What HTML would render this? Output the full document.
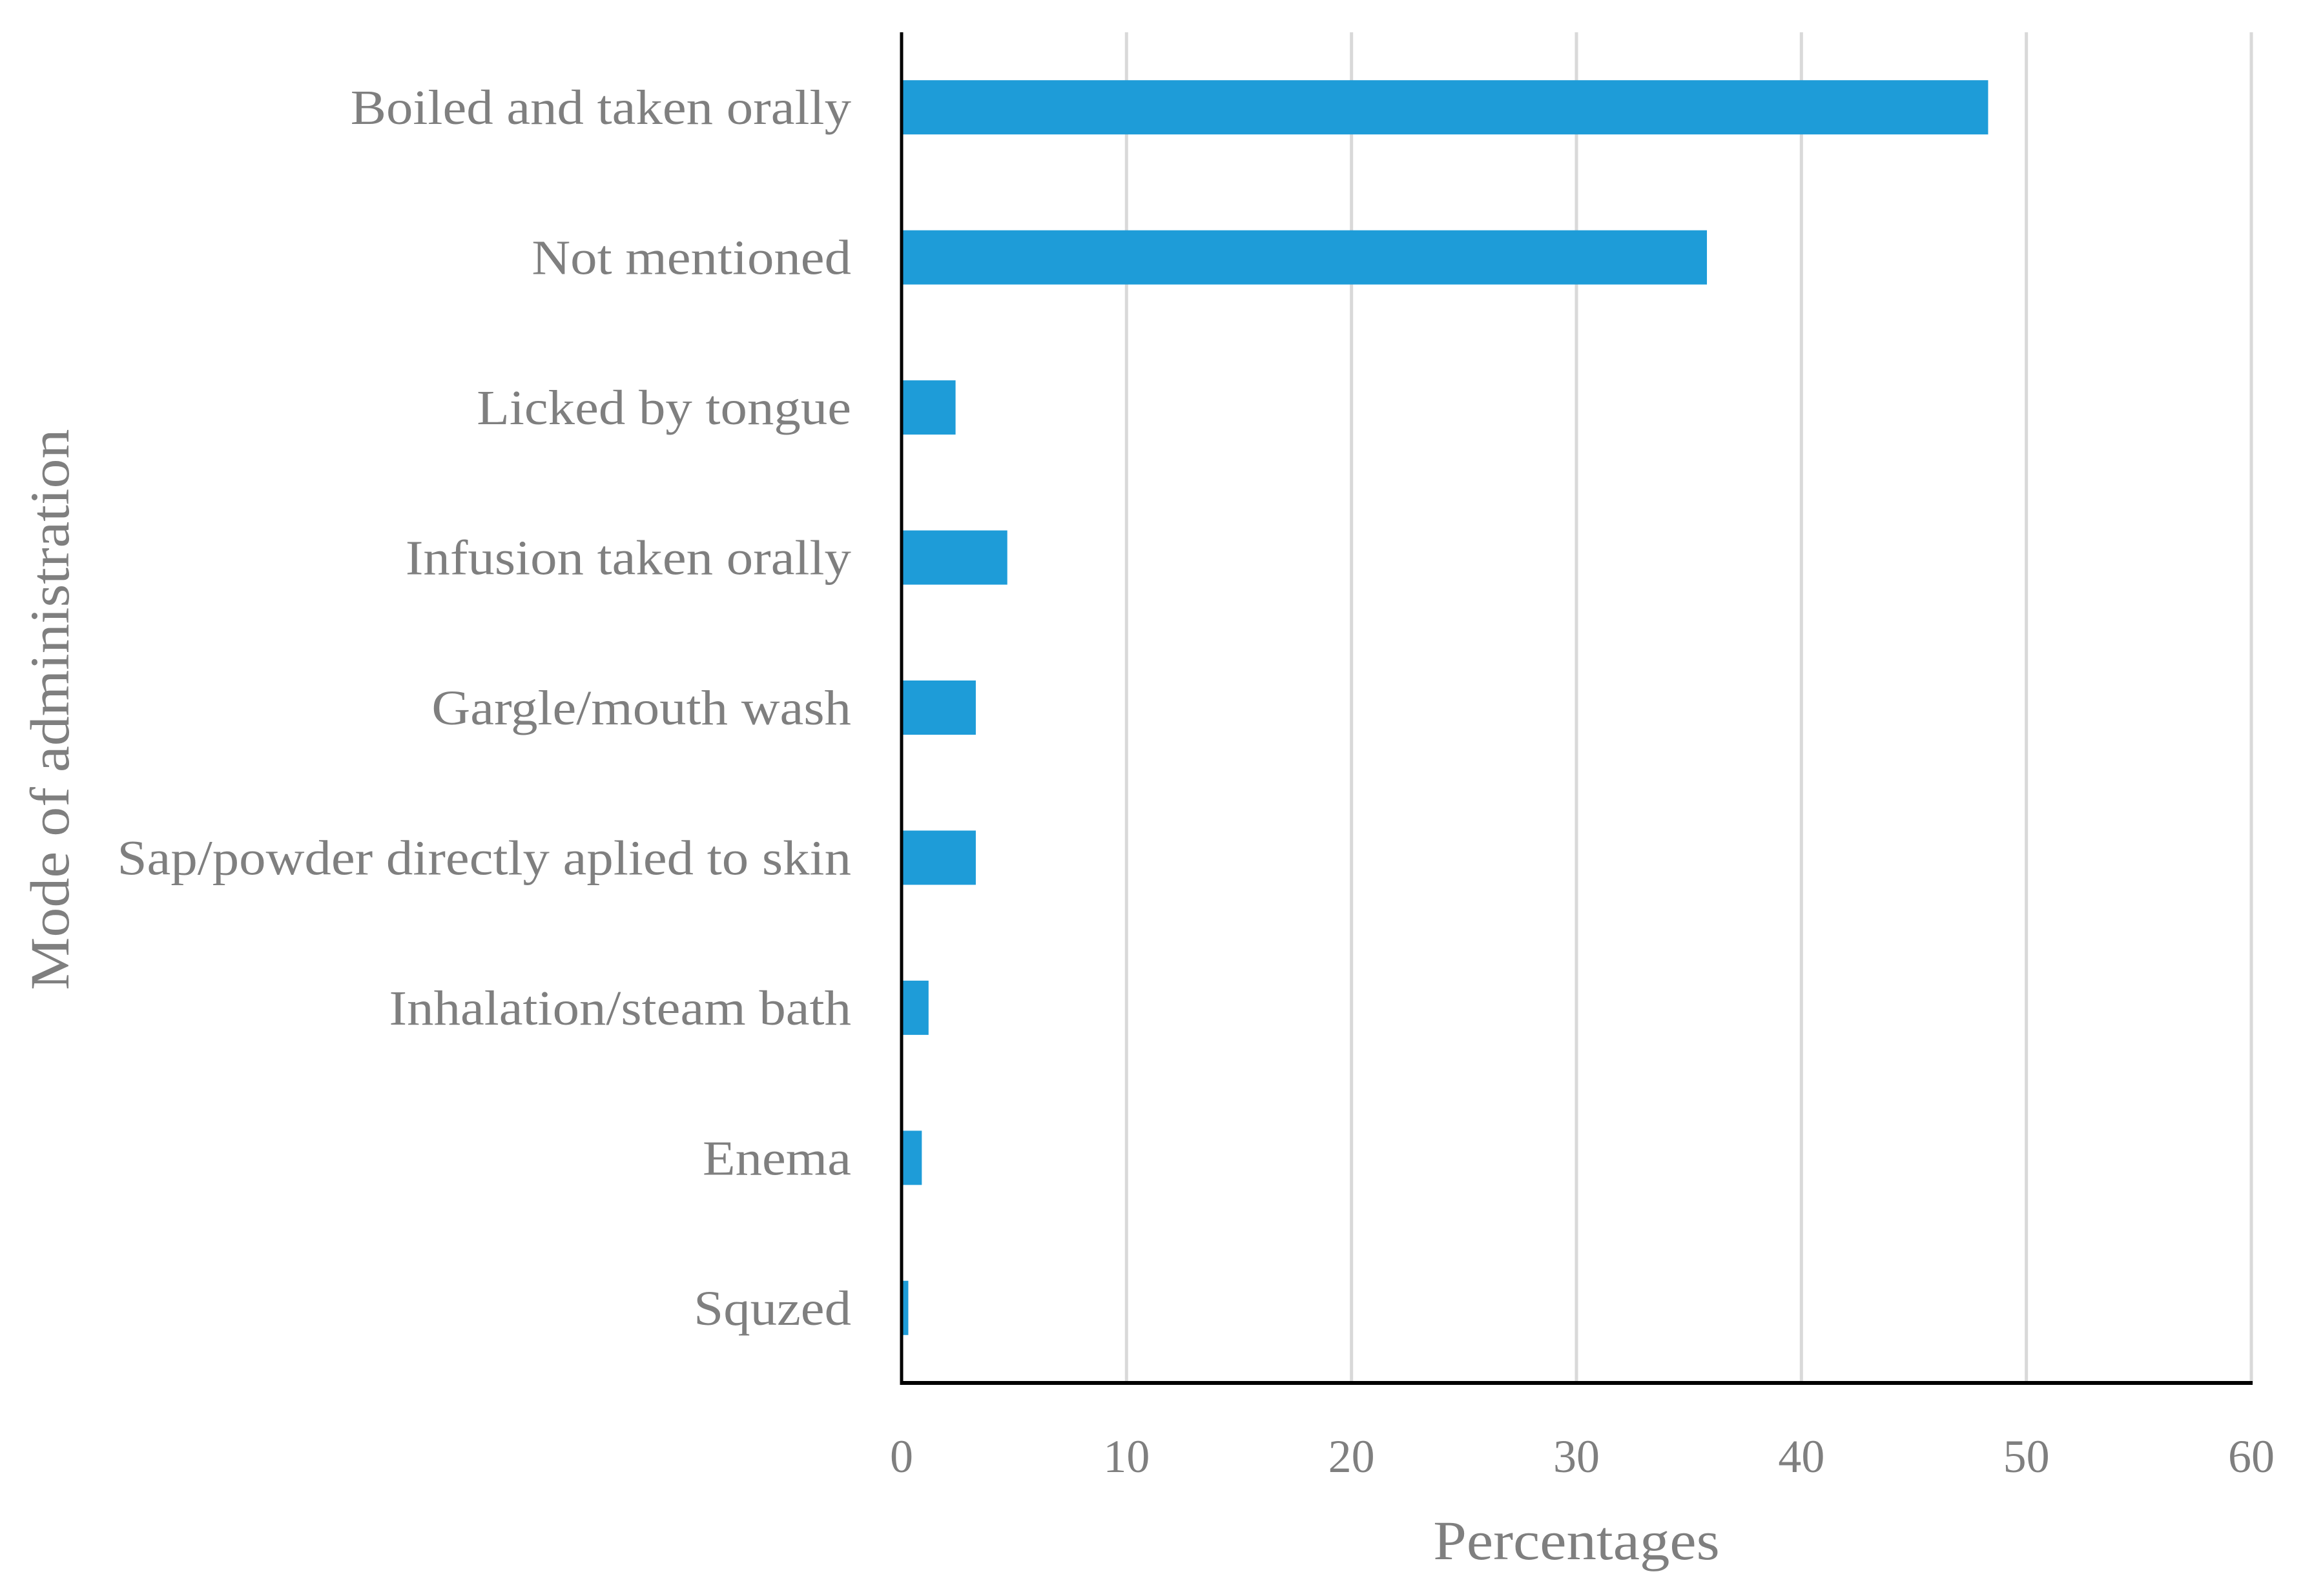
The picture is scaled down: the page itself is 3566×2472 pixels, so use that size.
<!DOCTYPE html>
<html><head><meta charset="utf-8"><style>
html,body{margin:0;padding:0;background:#fff;}
svg text{font-family:"Liberation Serif",serif;fill:#7f7f7f;}
</style></head><body>
<svg id="chart" width="3566" height="2467" viewBox="0 0 3566 2467" xmlns="http://www.w3.org/2000/svg">
<g id="grid"></g>
<g id="bars"></g>
<g id="ylabels"></g>
<g id="xlabels"></g>
<line x1="1396" y1="50" x2="1396" y2="2145" stroke="#000" stroke-width="5"/>
<line x1="1394" y1="2142" x2="3488" y2="2142" stroke="#000" stroke-width="6"/>
<text id="xt" x="2441" y="2415" font-size="86" text-anchor="middle">Percentages</text>
<text id="yt" transform="translate(106,1099) rotate(-90)" font-size="86" text-anchor="middle">Mode of administration</text>
</svg>
<script>
const categories = ["Boiled and taken orally","Not mentioned","Licked by tongue","Infusion taken orally","Gargle/mouth wash","Sap/powder directly aplied to skin ","Inhalation/steam bath","Enema","Squzed"];
const values = [48.3,35.8,2.4,4.7,3.3,3.3,1.2,0.9,0.3];
const ticks = [0,10,20,30,40,50,60];

const NS="http://www.w3.org/2000/svg";
const X0=1396,X1=3486,XMAX=60,Y0=50,Y1=2142;
const band=(Y1-Y0)/categories.length;
function xs(v){return X0+(v/XMAX)*(X1-X0);}
function yc(i){return Y0+band*(i+0.5);}
function widen(el,f){const w=el.getComputedTextLength();el.setAttribute('textLength',w*f);el.setAttribute('lengthAdjust','spacingAndGlyphs');}
const grid=document.getElementById('grid'),bars=document.getElementById('bars'),yl=document.getElementById('ylabels'),xl=document.getElementById('xlabels');
ticks.forEach(t=>{
  if(t>0){
    const l=document.createElementNS(NS,'line');
    
    
    l.setAttribute('x1',xs(t));l.setAttribute('x2',xs(t));l.setAttribute('y1',Y0);l.setAttribute('y2',Y1);
    l.setAttribute('stroke','#d9d9d9');l.setAttribute('stroke-width','5');
    grid.appendChild(l);
  }
  const tx=document.createElementNS(NS,'text');
  
  
  tx.setAttribute('x',xs(t));tx.setAttribute('y',2280);tx.setAttribute('font-size','72');tx.setAttribute('text-anchor','middle');
  tx.textContent=t;xl.appendChild(tx);
});
const bh=84;
categories.forEach((c,i)=>{
  const r=document.createElementNS(NS,'rect');
  
  
  r.setAttribute('x',X0+2);r.setAttribute('y',yc(i)-bh/2);
  r.setAttribute('width',Math.max(0,xs(values[i])-X0-2));r.setAttribute('height',bh);
  r.setAttribute('fill','#1e9cd8');
  bars.appendChild(r);
  const t=document.createElementNS(NS,'text');
  
  
  t.setAttribute('x',1318);t.setAttribute('y',yc(i)+26);t.setAttribute('font-size','76');t.setAttribute('text-anchor','end');
  t.setAttribute('xml:space','preserve');
  t.textContent=c;yl.appendChild(t);
  widen(t,1.09);
});
widen(document.getElementById('xt'),1.08);
widen(document.getElementById('yt'),1.07);
</script>
</body></html>
